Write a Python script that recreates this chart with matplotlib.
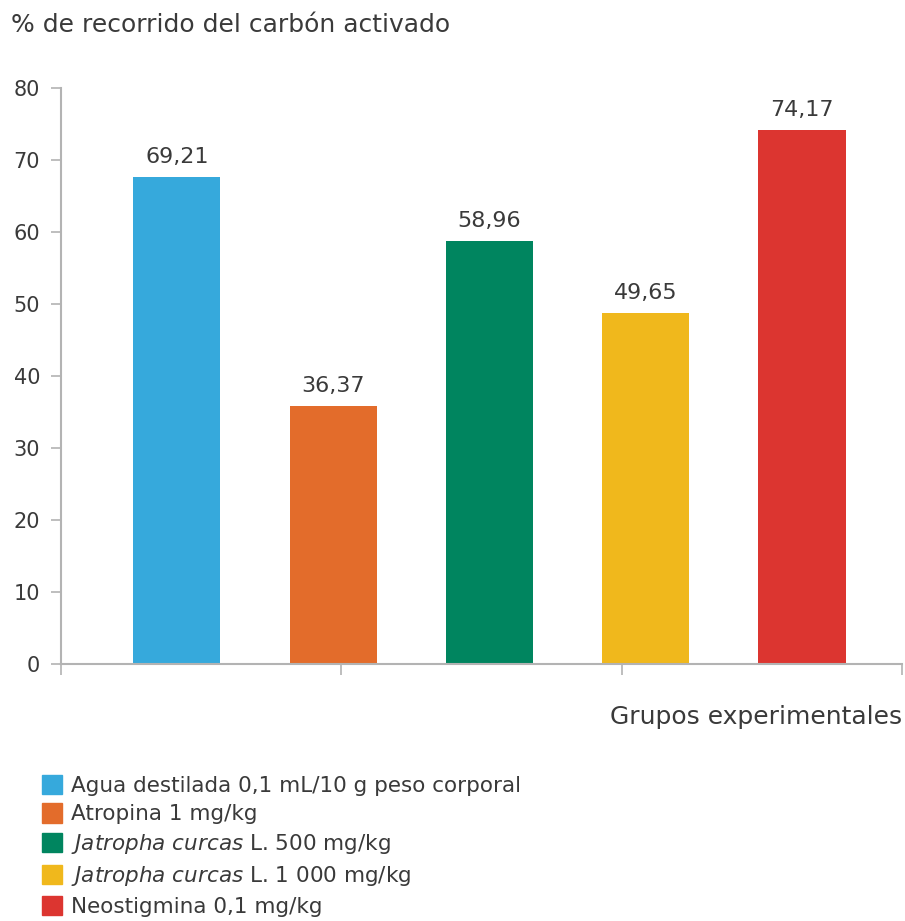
import numpy as np
import matplotlib.pyplot as plt
from matplotlib.patches import Patch

# Datos
grupos = ['Agua destilada 0,1 mL/10 g peso corporal',
          'Atropina 1 mg/kg',
          r'$\it{Jatropha\ curcas}$ L. 500 mg/kg',
          r'$\it{Jatropha\ curcas}$ L. 1 000 mg/kg',
          'Neostigmina 0,1 mg/kg']
etiquetas = ['69,21', '36,37', '58,96', '49,65', '74,17']
alturas = [67.6, 35.8, 58.8, 48.8, 74.2]   # altura de barra
colores = ['#36a9dc', '#e36c2b', '#00855f', '#f0b81c', '#dc3530']

gris = '#b3b3b3'
texto = '#3a3a3a'

fig = plt.figure(figsize=(9.05, 9.21), dpi=100)
ax = fig.add_axes([0.0674, 0.279, 0.9293, 0.6255])

x = np.arange(len(alturas))
ax.bar(x, alturas, width=0.557, color=colores)
for xi, h, lab in zip(x, alturas, etiquetas):
    ax.text(xi, h + 1.4, lab, ha='center', va='bottom', fontsize=16, color=texto)

ax.set_xlim(-0.742, 4.64)
ax.set_ylim(0, 80)
ax.set_yticks(range(0, 81, 10))
ax.set_xticks(np.linspace(-0.742, 4.64, 4))
ax.set_xticklabels([])

for s in ['top', 'right']:
    ax.spines[s].set_visible(False)
for s in ['left', 'bottom']:
    ax.spines[s].set_color(gris)
    ax.spines[s].set_linewidth(1.5)
ax.spines['left'].set_bounds(0, 80)
ax.tick_params(axis='both', colors=gris, length=7, width=1.2, labelcolor=texto, labelsize=15)
ax.tick_params(axis='y', pad=8)
ax.tick_params(axis='x', length=8)

fig.text(0.012, 0.973, '% de recorrido del carbón activado', fontsize=18,
         color=texto, ha='left', va='center')
fig.text(0.997, 0.221, 'Grupos experimentales', fontsize=18,
         color=texto, ha='right', va='center')

handles = [Patch(color=c) for c in colores]
fig.legend(handles, grupos, loc='upper left', bbox_to_anchor=(0.046, 0.159),
           frameon=False, fontsize=15.5, handlelength=0.93, handleheight=1.0,
           handletextpad=0.45, labelspacing=0.36, borderaxespad=0, borderpad=0,
           labelcolor=texto)

fig.savefig('out.png', dpi=100)
